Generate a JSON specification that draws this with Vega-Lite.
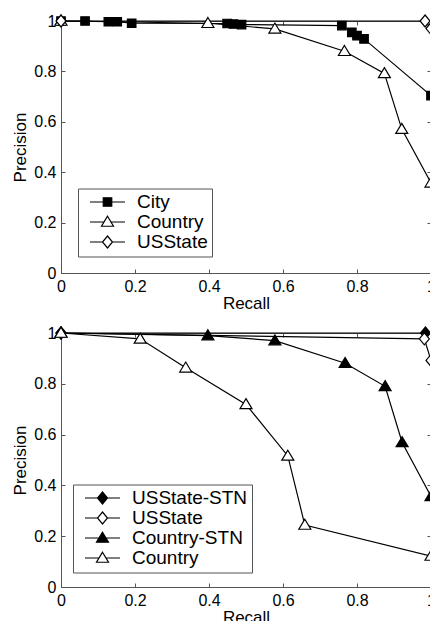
{
  "$schema": "https://vega.github.io/schema/vega-lite/v6.json",
  "background": "white",
  "padding": {"left": 11, "top": 12, "right": 0, "bottom": 0},
  "bounds": "flush",
  "spacing": 60,
  "config": {
    "font": "Liberation Sans",
    "view": {"stroke": null},
    "axis": {
      "grid": false,
      "domainColor": "#555555",
      "tickColor": "#555555",
      "labelColor": "black",
      "titleColor": "black",
      "labelFont": "Liberation Sans",
      "titleFont": "Liberation Sans",
      "labelFontSize": 16,
      "titleFontSize": 17,
      "titleFontWeight": "normal",
      "tickSize": -4,
      "labelPadding": 9,
      "labelFlush": false,
      "labelOverlap": false,
      "domainWidth": 1,
      "tickWidth": 1
    },
    "axisX": {"titlePadding": 1},
    "axisY": {"titlePadding": 4},
    "legend": {
      "labelFont": "Liberation Sans",
      "labelFontSize": 19,
      "labelColor": "black",
      "strokeColor": "#555555",
      "fillColor": "white",
      "padding": 4,
      "symbolSize": 100,
      "symbolOffset": 16,
      "labelOffset": 20,
      "rowPadding": 0,
      "symbolStrokeWidth": 1.2
    }
  },
  "datasets": {
    "top": [
      {"series": "City", "recall": 0, "precision": 1},
      {"series": "City", "recall": 0.065, "precision": 1},
      {"series": "City", "recall": 0.128, "precision": 0.997},
      {"series": "City", "recall": 0.152, "precision": 0.997},
      {"series": "City", "recall": 0.191, "precision": 0.991},
      {"series": "City", "recall": 0.449, "precision": 0.99},
      {"series": "City", "recall": 0.466, "precision": 0.988},
      {"series": "City", "recall": 0.488, "precision": 0.986},
      {"series": "City", "recall": 0.759, "precision": 0.982},
      {"series": "City", "recall": 0.786, "precision": 0.955},
      {"series": "City", "recall": 0.8, "precision": 0.942},
      {"series": "City", "recall": 0.819, "precision": 0.929},
      {"series": "City", "recall": 1, "precision": 0.704},
      {"series": "Country", "recall": 0, "precision": 1},
      {"series": "Country", "recall": 0.397, "precision": 0.991},
      {"series": "Country", "recall": 0.578, "precision": 0.969},
      {"series": "Country", "recall": 0.766, "precision": 0.88},
      {"series": "Country", "recall": 0.874, "precision": 0.792},
      {"series": "Country", "recall": 0.921, "precision": 0.571},
      {"series": "Country", "recall": 1, "precision": 0.358},
      {"series": "USState", "recall": 0, "precision": 1},
      {"series": "USState", "recall": 0.984, "precision": 1},
      {"series": "USState", "recall": 1, "precision": 0.97}
    ],
    "bottom": [
      {"series": "USState-STN", "recall": 0, "precision": 1},
      {"series": "USState-STN", "recall": 0.985, "precision": 1},
      {"series": "USState", "recall": 0, "precision": 1},
      {"series": "USState", "recall": 0.982, "precision": 0.977},
      {"series": "USState", "recall": 1, "precision": 0.892},
      {"series": "Country-STN", "recall": 0, "precision": 1},
      {"series": "Country-STN", "recall": 0.397, "precision": 0.99},
      {"series": "Country-STN", "recall": 0.578, "precision": 0.97},
      {"series": "Country-STN", "recall": 0.768, "precision": 0.881},
      {"series": "Country-STN", "recall": 0.876, "precision": 0.79},
      {"series": "Country-STN", "recall": 0.922, "precision": 0.569},
      {"series": "Country-STN", "recall": 1, "precision": 0.357},
      {"series": "Country", "recall": 0, "precision": 1},
      {"series": "Country", "recall": 0.214, "precision": 0.977},
      {"series": "Country", "recall": 0.337, "precision": 0.863},
      {"series": "Country", "recall": 0.5, "precision": 0.719},
      {"series": "Country", "recall": 0.613, "precision": 0.516},
      {"series": "Country", "recall": 0.659, "precision": 0.244},
      {"series": "Country", "recall": 1, "precision": 0.122}
    ]
  },
  "resolve": {
    "scale": {"shape": "independent", "fill": "independent"},
    "legend": {"shape": "independent", "fill": "independent"}
  },
  "vconcat": [
    {
      "data": {"name": "top"},
      "width": 370,
      "height": 252,
      "resolve": {
        "axis": {"x": "independent", "y": "independent"},
        "scale": {"shape": "independent", "fill": "independent"},
        "legend": {"shape": "independent", "fill": "independent"}
      },
      "layer": [
        {
          "mark": {"type": "line", "color": "black", "strokeWidth": 1.2},
          "encoding": {
            "x": {"field": "recall", "type": "quantitative", "scale": {"domain": [0, 1]},
                  "axis": {"title": "Recall", "values": [0, 0.2, 0.4, 0.6, 0.8, 1], "format": "~g"}},
            "y": {"field": "precision", "type": "quantitative", "scale": {"domain": [0, 1]},
                  "axis": {"title": "Precision", "values": [0, 0.2, 0.4, 0.6, 0.8, 1], "format": "~g"}},
            "detail": {"field": "series"}
          }
        },
        {
          "mark": {"type": "point", "filled": true, "stroke": "black", "strokeWidth": 1.2, "size": 100, "opacity": 1},
          "encoding": {
            "x": {"field": "recall", "type": "quantitative", "axis": null},
            "y": {"field": "precision", "type": "quantitative", "axis": null},
            "shape": {
              "field": "series", "type": "nominal", "legend": null,
              "scale": {"domain": ["City", "Country", "USState"],
                        "range": ["M-0.85,-0.85L0.85,-0.85L0.85,0.85L-0.85,0.85Z", "M0,-1.15L1.2,0.85L-1.2,0.85Z", "M0,-1.2L1,0L0,1.2L-1,0Z"]}
            },
            "fill": {
              "field": "series", "type": "nominal", "legend": null,
              "scale": {"domain": ["City", "Country", "USState"], "range": ["black", "white", "white"]}
            }
          }
        },
        {
          "mark": {"type": "point", "opacity": 0},
          "encoding": {
            "x": {"field": "recall", "type": "quantitative",
                  "axis": {"orient": "top", "labels": false, "title": null, "values": [0, 0.2, 0.4, 0.6, 0.8, 1]}},
            "y": {"field": "precision", "type": "quantitative",
                  "axis": {"orient": "right", "labels": false, "title": null, "values": [0, 0.2, 0.4, 0.6, 0.8, 1]}}
          }
        },
        {
          "transform": [{"filter": "datum.recall > 5"}],
          "mark": {"type": "point", "filled": true, "stroke": "black", "strokeWidth": 1.2, "size": 100, "opacity": 1},
          "encoding": {
            "shape": {
              "field": "series", "type": "nominal",
              "scale": {"domain": ["City", "Country", "USState"],
                        "range": ["M-3.5,0L3.5,0M-0.85,-0.85L0.85,-0.85L0.85,0.85L-0.85,0.85Z", "M-3.5,0L-0.72,0M0.72,0L3.5,0M0,-1.15L1.2,0.85L-1.2,0.85Z", "M-3.5,0L-1,0M1,0L3.5,0M0,-1.2L1,0L0,1.2L-1,0Z"]},
              "legend": {
                "title": null, "orient": "none", "legendX": 17, "legendY": 167.5,
                "encode": {"symbols": {"update": {"stroke": {"value": "black"}, "strokeWidth": {"value": 1.2}}}}
              }
            },
            "fill": {
              "field": "series", "type": "nominal",
              "scale": {"domain": ["City", "Country", "USState"], "range": ["black", "white", "white"]},
              "legend": {
                "title": null, "orient": "none", "legendX": 17, "legendY": 167.5,
                "encode": {"symbols": {"update": {"stroke": {"value": "black"}, "strokeWidth": {"value": 1.2}}}}
              }
            }
          }
        }
      ]
    },
    {
      "data": {"name": "bottom"},
      "width": 370,
      "height": 254,
      "resolve": {
        "axis": {"x": "independent", "y": "independent"},
        "scale": {"shape": "independent", "fill": "independent"},
        "legend": {"shape": "independent", "fill": "independent"}
      },
      "layer": [
        {
          "mark": {"type": "line", "color": "black", "strokeWidth": 1.2},
          "encoding": {
            "x": {"field": "recall", "type": "quantitative", "scale": {"domain": [0, 1]},
                  "axis": {"title": "Recall", "values": [0, 0.2, 0.4, 0.6, 0.8, 1], "format": "~g"}},
            "y": {"field": "precision", "type": "quantitative", "scale": {"domain": [0, 1]},
                  "axis": {"title": "Precision", "values": [0, 0.2, 0.4, 0.6, 0.8, 1], "format": "~g"}},
            "detail": {"field": "series"}
          }
        },
        {
          "mark": {"type": "point", "filled": true, "stroke": "black", "strokeWidth": 1.2, "size": 100, "opacity": 1},
          "encoding": {
            "x": {"field": "recall", "type": "quantitative", "axis": null},
            "y": {"field": "precision", "type": "quantitative", "axis": null},
            "shape": {
              "field": "series", "type": "nominal", "legend": null,
              "scale": {"domain": ["USState-STN", "USState", "Country-STN", "Country"],
                        "range": ["M0,-1.2L1,0L0,1.2L-1,0Z", "M0,-1.2L1,0L0,1.2L-1,0Z", "M0,-1.15L1.2,0.85L-1.2,0.85Z", "M0,-1.15L1.2,0.85L-1.2,0.85Z"]}
            },
            "fill": {
              "field": "series", "type": "nominal", "legend": null,
              "scale": {"domain": ["USState-STN", "USState", "Country-STN", "Country"], "range": ["black", "white", "black", "white"]}
            }
          }
        },
        {
          "mark": {"type": "point", "opacity": 0},
          "encoding": {
            "x": {"field": "recall", "type": "quantitative",
                  "axis": {"orient": "top", "labels": false, "title": null, "values": [0, 0.2, 0.4, 0.6, 0.8, 1]}},
            "y": {"field": "precision", "type": "quantitative",
                  "axis": {"orient": "right", "labels": false, "title": null, "values": [0, 0.2, 0.4, 0.6, 0.8, 1]}}
          }
        },
        {
          "transform": [{"filter": "datum.recall > 5"}],
          "mark": {"type": "point", "filled": true, "stroke": "black", "strokeWidth": 1.2, "size": 100, "opacity": 1},
          "encoding": {
            "shape": {
              "field": "series", "type": "nominal",
              "scale": {"domain": ["USState-STN", "USState", "Country-STN", "Country"],
                        "range": ["M-3.5,0L-1,0M1,0L3.5,0M0,-1.2L1,0L0,1.2L-1,0Z", "M-3.5,0L-1,0M1,0L3.5,0M0,-1.2L1,0L0,1.2L-1,0Z", "M-3.5,0L-0.72,0M0.72,0L3.5,0M0,-1.15L1.2,0.85L-1.2,0.85Z", "M-3.5,0L-0.72,0M0.72,0L3.5,0M0,-1.15L1.2,0.85L-1.2,0.85Z"]},
              "legend": {
                "title": null, "orient": "none", "legendX": 12, "legendY": 151.5,
                "encode": {"symbols": {"update": {"stroke": {"value": "black"}, "strokeWidth": {"value": 1.2}}}}
              }
            },
            "fill": {
              "field": "series", "type": "nominal",
              "scale": {"domain": ["USState-STN", "USState", "Country-STN", "Country"], "range": ["black", "white", "black", "white"]},
              "legend": {
                "title": null, "orient": "none", "legendX": 12, "legendY": 151.5,
                "encode": {"symbols": {"update": {"stroke": {"value": "black"}, "strokeWidth": {"value": 1.2}}}}
              }
            }
          }
        }
      ]
    }
  ]
}
